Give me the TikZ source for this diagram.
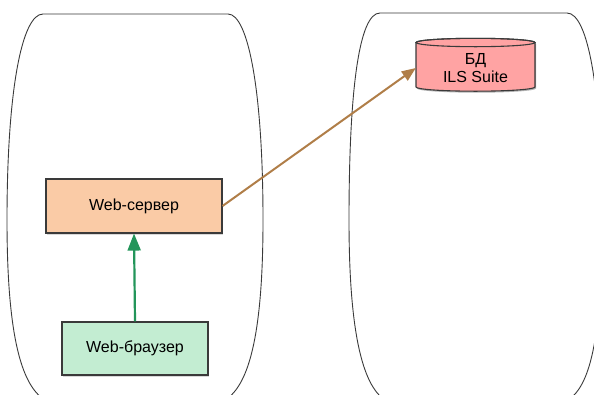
\documentclass[tikz,border=0pt]{standalone}
\usepackage{fontspec}
\setmainfont{Liberation Sans}
\usetikzlibrary{arrows.meta,shadows}

\definecolor{serverfill}{HTML}{FACBA6}
\definecolor{browserfill}{HTML}{C3EDD2}
\definecolor{dbfill}{HTML}{FFA3A3}
\definecolor{edgegray}{HTML}{3A3A3A}
\definecolor{linkgreen}{HTML}{23955A}
\definecolor{linkbrown}{HTML}{B07E48}

\tikzset{
  x=1pt, y=1pt,
  zone/.style={draw=edgegray, line width=0.9pt},
  boxnode/.style={draw=edgegray, line width=1.1pt, minimum width=176pt,
    minimum height=54pt, inner sep=0pt, font=\fontsize{16}{18}\selectfont,
    drop shadow={shadow xshift=1pt, shadow yshift=-1.5pt, opacity=0.3}},
  dbnode/.style={minimum width=119pt, minimum height=52pt, inner sep=0pt,
    align=center, font=\fontsize{16}{17.4}\selectfont},
  greenlink/.style={draw=linkgreen, line width=2.2pt,
    -{Triangle[length=17pt,width=13pt]}},
  brownlink/.style={draw=linkbrown, line width=2pt,
    -{Triangle[length=14pt,width=11pt]}},
}

\begin{document}
\begin{tikzpicture}
\useasboundingbox (0,0) rectangle (594,-394);
\clip (0,0) rectangle (594,-394);

% two rounded zones
\draw[zone] (43,-14) -- (228,-14)
  .. controls (248,-14) and (263,-90) .. (263,-220)
  .. controls (263,-330) and (250,-385) .. (225,-400)
  -- (45,-400)
  .. controls (20,-385) and (7,-330) .. (7,-220)
  .. controls (7,-90) and (22,-14) .. cycle;
\draw[zone] (380,-13) -- (567,-13)
  .. controls (588,-13) and (602,-90) .. (602,-220)
  .. controls (602,-330) and (592,-385) .. (568,-400)
  -- (385,-400)
  .. controls (362,-385) and (349,-330) .. (349,-220)
  .. controls (349,-90) and (359,-13) .. cycle;

% application boxes
\node[boxnode, fill=serverfill] (server) at (134,-206) {Web-сервер};
\node[boxnode, fill=browserfill, minimum width=146pt, minimum height=53pt]
  (browser) at (135,-348.5) {Web-браузер};

% database cylinder
\fill[black, opacity=0.3, xshift=1pt, yshift=-1.5pt]
  (416,-42.5) -- (416,-87) arc[start angle=180, end angle=360,
  x radius=59.5, y radius=4.2] -- (535,-42.5)
  arc[start angle=0, end angle=180, x radius=59.5, y radius=4.2] -- cycle;
\filldraw[fill=dbfill, draw=edgegray, line width=1.1pt]
  (416,-42.5) -- (416,-87) arc[start angle=180, end angle=360,
  x radius=59.5, y radius=4.2] -- (535,-42.5)
  arc[start angle=0, end angle=180, x radius=59.5, y radius=4.2] -- cycle;
\draw[edgegray, line width=1.1pt] (475.5,-42.5) ellipse[x radius=59.5, y radius=4.2];
\node[dbnode] (db) at (475.5,-68) {БД\\ILS Suite};

% connectors
\draw[greenlink] (browser.north) -- (server.south);
\draw[brownlink] (server.east) -- (db.west);
\end{tikzpicture}
\end{document}
